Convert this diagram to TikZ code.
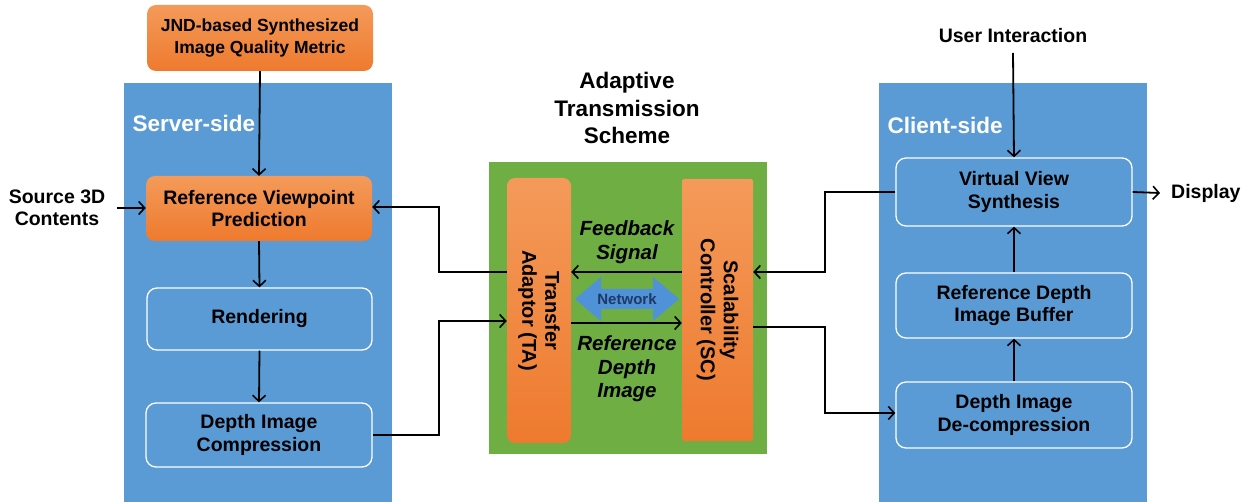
\documentclass[tikz,border=0pt]{standalone}
\usepackage{fontspec}
\setmainfont{Liberation Sans}
\usetikzlibrary{arrows.meta}
\definecolor{panelblue}{HTML}{5B9BD5}
\definecolor{boxorange}{HTML}{EE7A2E}
\definecolor{boxorangetop}{HTML}{F49A5A}
\definecolor{schemegreen}{HTML}{6FAE43}
\definecolor{netblue}{HTML}{4F92D8}
\definecolor{nettext}{HTML}{1F3864}
\tikzset{
  orangebox/.style={rounded corners=9pt, top color=boxorangetop, bottom color=boxorange, draw=none,
    align=center, font=\fontsize{19.5}{22}\selectfont\bfseries, inner sep=2pt},
  whitebox/.style={rounded corners=10pt, draw=white, line width=1.3pt, fill=panelblue,
    align=center, font=\fontsize{19.5}{22.5}\selectfont\bfseries, inner sep=2pt},
  plain/.style={align=center, font=\fontsize{19.5}{22}\selectfont\bfseries, inner sep=1pt},
  ital/.style={align=center, font=\fontsize{20.5}{23.5}\selectfont\bfseries\itshape, inner sep=1pt},
  conn/.style={line width=1.8pt, -{Straight Barb[length=6pt,width=13pt,line width=1.6pt]}},
}
\begin{document}
\begin{tikzpicture}[x=1pt,y=-1pt]
\useasboundingbox (0,0) rectangle (1251,502);
% panels
\fill[panelblue] (124,83) rectangle (392,502);
\fill[panelblue] (879,83) rectangle (1147,502);
\fill[schemegreen] (489,162) rectangle (767,454);
\node[anchor=west, text=white, font=\fontsize{22.5}{24}\selectfont\bfseries] (serverlbl) at (129,123) {Server-side};
\node[anchor=west, text=white, font=\fontsize{22.5}{24}\selectfont\bfseries] (clientlbl) at (884,125) {Client-side};
% server side
\node[orangebox, font=\fontsize{17.5}{22}\selectfont\bfseries, minimum width=226pt, minimum height=66pt] (jnd) at (260,38) {JND-based Synthesized\\Image Quality Metric};
\node[orangebox, minimum width=226pt, minimum height=65pt] (rvp) at (259,208.5) {Reference Viewpoint\\Prediction};
\node[whitebox, minimum width=225pt, minimum height=62pt] (rend) at (259.5,319) {Rendering};
\node[whitebox, minimum width=226pt, minimum height=64pt] (dic) at (259,435) {Depth Image\\Compression};
\node[plain] (src) at (57,208) {Source 3D\\Contents};
% scheme
\node[align=center, font=\fontsize{22.5}{27.5}\selectfont\bfseries] (title) at (627,108) {Adaptive\\Transmission\\Scheme};
\node[orangebox, font=\fontsize{20}{23}\selectfont\bfseries, rounded corners=8pt, minimum width=265pt, minimum height=64pt, rotate=-90] (ta) at (539,310.5) {Transfer\\Adaptor (TA)};
\node[orangebox, font=\fontsize{20}{23}\selectfont\bfseries, rounded corners=2pt, minimum width=262pt, minimum height=71pt, rotate=-90] (sc) at (717.5,310) {Scalability\\Controller (SC)};
\node[ital] (fb) at (627,242) {Feedback\\Signal};
\node[ital] (rdi) at (627,369) {Reference\\Depth\\Image};
\fill[netblue] (575,299) -- (601,277) -- (601,289) -- (653,289) -- (653,277) -- (679,299)
  -- (653,321) -- (653,309) -- (601,309) -- (601,321) -- cycle;
\node[text=nettext, font=\fontsize{15}{16}\selectfont\bfseries] (net) at (627,299) {Network};
% client side
\node[plain] (ui) at (1013,36) {User Interaction};
\node[whitebox, minimum width=236pt, minimum height=68pt] (vvs) at (1014,192) {Virtual View\\Synthesis};
\node[whitebox, minimum width=236pt, minimum height=65pt] (rdib) at (1014,305.5) {Reference Depth\\Image Buffer};
\node[whitebox, minimum width=236pt, minimum height=66pt] (ddc) at (1014,415) {Depth Image\\De-compression};
\node[plain, anchor=west] (disp) at (1170,193) {Display};
% connectors
\coordinate (uitop) at (1013,53);
\coordinate (srcend) at (117,208);
\coordinate (dispstart) at (1160,193);
\draw[conn] (jnd.south) -- (rvp.north);
\draw[conn] (srcend) -- (rvp.west |- srcend);
\draw[conn] (rvp.south) -- (rend.north);
\draw[conn] (rend.south) -- (dic.north);
\draw[conn] (ta.south |- 0,272) -| (439,207) -- (rvp.east |- 0,207);
\draw[conn] (dic.east) -| (439,321) -- (ta.south |- 0,321);
\draw[conn] (sc.south |- 0,272) -- (ta.north |- 0,272);
\draw[conn] (ta.north |- 0,323) -- (sc.south |- 0,323);
\draw[conn] (vvs.west) -| (825,272) -- (sc.north |- 0,272);
\draw[conn] (sc.north |- 0,327) -| (825,413) -- (ddc.west |- 0,413);
\draw[conn] (uitop) -- (vvs.north);
\draw[conn] (vvs.east) -- (dispstart);
\draw[conn] (rdib.north) -- (vvs.south);
\draw[conn] (ddc.north) -- (rdib.south);
\end{tikzpicture}
\end{document}
